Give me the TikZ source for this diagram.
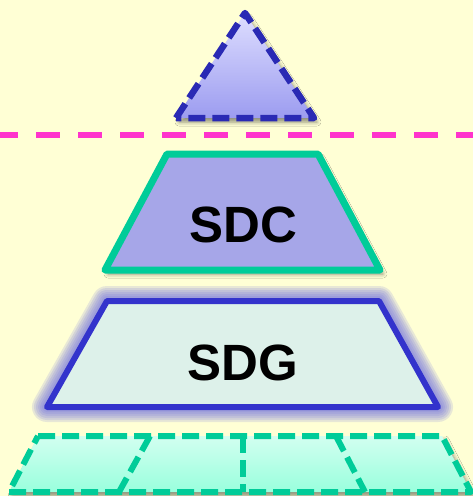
\documentclass[tikz,border=0pt]{standalone}
\usepackage{fontspec}
\setmainfont{Liberation Sans}
\usetikzlibrary{shadows.blur}
\definecolor{paper}{HTML}{FFFFD5}
\definecolor{navy}{HTML}{2A2AB4}
\definecolor{lavtop}{HTML}{DEDEFF}
\definecolor{lavbot}{HTML}{9C9CF0}
\definecolor{magentaline}{HTML}{FF33CC}
\definecolor{teal}{HTML}{00CC99}
\definecolor{sdcfill}{HTML}{A6A6E8}
\definecolor{sdgfill}{HTML}{DDF1EA}
\definecolor{sdgedge}{HTML}{3333CC}
\definecolor{glow}{HTML}{6A6AE0}
\definecolor{mintop}{HTML}{D2FFF0}
\definecolor{minbot}{HTML}{99FFDD}
\tikzset{
  softshadow/.style={blur shadow={shadow xshift=3pt, shadow yshift=-4pt,
      shadow blur radius=4pt, shadow opacity=45}},
  dashedge/.style={dash pattern=on 17pt off 7pt, line join=round},
  label/.style={font=\bfseries\fontsize{51}{51}\selectfont, inner sep=0pt}
}
\begin{document}
\begin{tikzpicture}[x=1pt, y=-1pt]
  % canvas
  \fill[paper] (0,0) rectangle (473,496);
  \useasboundingbox (0,0) rectangle (473,496);

  % apex triangle
  \coordinate (tA) at (245,13);
  \coordinate (tL) at (176,118);
  \coordinate (tR) at (314,118);
  \path[softshadow, top color=lavtop, bottom color=lavbot] (tA) -- (tR) -- (tL) -- cycle;
  \draw[navy, line width=6.5pt, dashedge] (tL) -- (tA) -- (tR) -- cycle;

  % separating line
  \coordinate (sepL) at (-6,135);
  \coordinate (sepR) at (480,135);
  \draw[magentaline, line width=6pt, dash pattern=on 24pt off 18pt] (sepL) -- (sepR);

  % SDC layer
  \coordinate (cTL) at (167,154);
  \coordinate (cTR) at (318,154);
  \coordinate (cBR) at (380,270);
  \coordinate (cBL) at (105,270);
  \path[softshadow, fill=sdcfill] (cTL) -- (cTR) -- (cBR) -- (cBL) -- cycle;
  \draw[teal, line width=7pt, line join=round] (cTL) -- (cTR) -- (cBR) -- (cBL) -- cycle;
  \node[label] (sdc) at (243.5,225) {SDC};

  % SDG layer with glow
  \coordinate (gTL) at (107,301);
  \coordinate (gTR) at (379,301);
  \coordinate (gBR) at (438,407);
  \coordinate (gBL) at (47,407);
  \foreach \w in {30,26,22,18,14,10}{
    \draw[glow, line width=\w pt, line join=round, opacity=0.16]
      (gTL) -- (gTR) -- (gBR) -- (gBL) -- cycle;
  }
  \fill[sdgfill] (gTL) -- (gTR) -- (gBR) -- (gBL) -- cycle;
  \draw[sdgedge, line width=6pt, line join=round] (gTL) -- (gTR) -- (gBR) -- (gBL) -- cycle;
  \node[label] (sdg) at (243,363) {SDG};

  % base layer split into four
  \coordinate (bTL) at (38,436);
  \coordinate (bTR) at (442,436);
  \coordinate (bBR) at (471,492);
  \coordinate (bBL) at (9,492);
  \coordinate (d1t) at (150,436);
  \coordinate (d1b) at (119,492);
  \coordinate (d2t) at (243,436);
  \coordinate (d2b) at (243,492);
  \coordinate (d3t) at (336,436);
  \coordinate (d3b) at (365,492);
  \path[softshadow, top color=mintop, bottom color=minbot] (bTL) -- (bTR) -- (bBR) -- (bBL) -- cycle;
  \draw[teal, line width=6pt, dashedge] (bTL) -- (bTR) -- (bBR) -- (bBL) -- cycle;
  \draw[teal, line width=6pt, dashedge] (d1t) -- (d1b);
  \draw[teal, line width=6pt, dashedge] (d2t) -- (d2b);
  \draw[teal, line width=6pt, dashedge] (d3t) -- (d3b);
\end{tikzpicture}
\end{document}
